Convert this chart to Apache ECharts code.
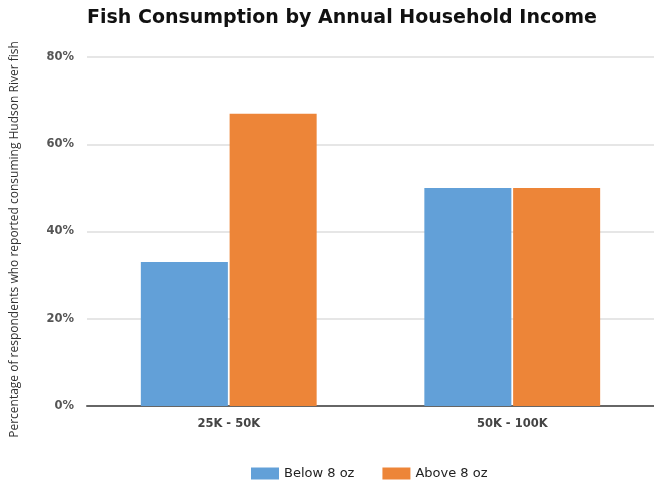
<!DOCTYPE html>
<html><head><meta charset="utf-8">
<script src="https://cdn.jsdelivr.net/npm/echarts@6/dist/echarts.min.js"></script>
<style>html,body{margin:0;padding:0;background:#fff}#c{width:654px;height:484px}</style>
</head><body><div id="c"></div>
<script>
const categories = ['25K - 50K', '50K - 100K'];
const seriesNames = ['Below 8 oz', 'Above 8 oz'];
const below = [33, 50];
const above = [67, 50];
const yTicks = [0, 20, 40, 60, 80];

const chart = echarts.init(document.getElementById('c'));
chart.setOption({
  animation: false,
  title: {
    text: 'Fish Consumption by Annual Household Income',
    left: 82, top: 4,
    textStyle: {fontFamily: 'DejaVu Sans', fontWeight: 'bold', fontSize: 19, color: '#111'}
  },
  legend: {
    top: 462, left: 246, itemWidth: 28, itemHeight: 12, itemGap: 28, itemTextGap: 4,
    icon: 'rect',
    data: seriesNames,
    textStyle: {fontFamily: 'DejaVu Sans', fontSize: 13, color: '#222'}
  },
  grid: {left: 87, right: 0, top: 57, bottom: 78, outerBoundsMode: 'none'},
  xAxis: {
    type: 'category', data: categories,
    axisTick: {show: false},
    axisLine: {lineStyle: {color: '#666', width: 2}},
    axisLabel: {fontFamily: 'DejaVu Sans', fontWeight: 'bold', fontSize: 11.5, color: '#444', margin: 12}
  },
  yAxis: {
    type: 'value', min: yTicks[0], max: yTicks[yTicks.length - 1], interval: 20,
    name: 'Percentage of respondents who reported consuming Hudson River fish',
    nameLocation: 'middle', nameGap: 66,
    nameTextStyle: {fontFamily: 'Open Sans', fontSize: 12, color: '#333', padding: [0, 0, 0, -16]},
    axisLabel: {formatter: '{value}%', fontFamily: 'DejaVu Sans', fontWeight: 'bold', fontSize: 11.5, color: '#555', margin: 13},
    splitLine: {lineStyle: {color: '#e6e6e6', width: 2}},
    axisLine: {show: false}, axisTick: {show: false}
  },
  series: [
    {name: seriesNames[0], type: 'bar', data: below, barWidth: '30.7%', barGap: '2%',
     itemStyle: {color: '#62A0D8'}},
    {name: seriesNames[1], type: 'bar', data: above, barWidth: '30.7%', barGap: '2%',
     itemStyle: {color: '#ED8538'}}
  ]
});
</script></body></html>
